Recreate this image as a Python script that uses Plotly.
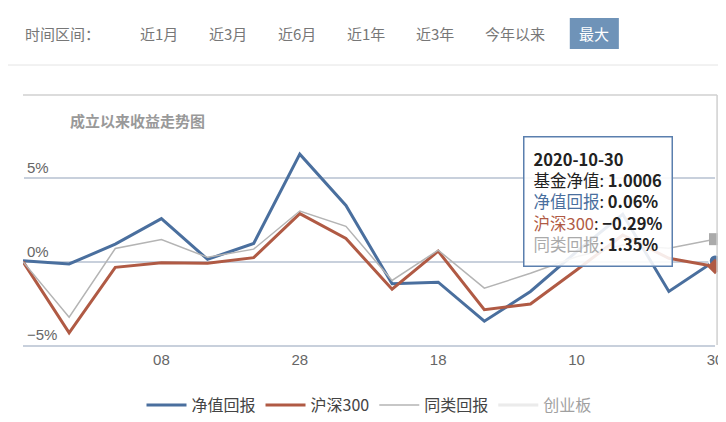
import plotly.graph_objects as go

x_labels = ["", "", "", "08", "", "", "28", "", "", "18", "", "", "10", "", "", "30"]
idx = list(range(len(x_labels)))
net_return = [0.06, -0.14, 1.05, 2.58, 0.14, 1.09, 6.45, 3.37, -1.33, -1.23, -3.57, -1.79, 0.6, 2.84, -1.79, 0.06]
hs300 = [0.0, -4.27, -0.34, -0.06, -0.10, 0.24, 2.88, 1.39, -1.65, 0.63, -2.88, -2.54, -0.5, 1.60, 0.20, -0.29]
peer = [0.0, -3.33, 0.79, 1.33, 0.26, 0.75, 3.04, 2.12, -1.13, 0.69, -1.59, -0.70, 0.3, 1.0, 0.8, 1.35]
gem = [None] * 16

BLUE, RED, GRAY, LIGHT = "#4a6f9e", "#b05a44", "#b4b4b4", "#d8d8d8"
FONT = "Noto Sans CJK SC"

fig = go.Figure()
fig.add_trace(go.Scatter(x=idx, y=net_return, name="净值回报", mode="lines", line=dict(color=BLUE, width=3)))
fig.add_trace(go.Scatter(x=idx, y=hs300, name="沪深300", mode="lines", line=dict(color=RED, width=3)))
fig.add_trace(go.Scatter(x=idx, y=peer, name="同类回报", mode="lines", line=dict(color=GRAY, width=1.5)))
fig.add_trace(go.Scatter(x=idx, y=gem, name="创业板", mode="lines", line=dict(color=LIGHT, width=3), visible="legendonly"))
# end markers
fig.add_trace(go.Scatter(x=[idx[-1]], y=[peer[-1]], mode="markers", showlegend=False, cliponaxis=False,
                         marker=dict(symbol="square", size=12, color="#aaaaaa")))
fig.add_trace(go.Scatter(x=[idx[-1]], y=[net_return[-1]], mode="markers", showlegend=False, cliponaxis=False,
                         marker=dict(symbol="circle", size=12, color=BLUE, line=dict(color="white", width=1.5))))
fig.add_trace(go.Scatter(x=[idx[-1]], y=[hs300[-1]], mode="markers", showlegend=False, cliponaxis=False,
                         marker=dict(symbol="diamond", size=12, color=RED)))

fig.update_layout(
    width=726, height=422, paper_bgcolor="white", plot_bgcolor="white",
    margin=dict(l=15, r=19, t=87, b=85, autoexpand=False),
    font=dict(family=FONT, color="#666"),
    xaxis=dict(range=[0, 15], tickmode="array", tickvals=idx, ticktext=x_labels, showgrid=False,
               showline=True, linecolor="#c8d0dc", linewidth=2, ticks="outside", ticklen=0,
               tickfont=dict(size=15, color="#666", family="Liberation Sans")),
    yaxis=dict(range=[-5, 10], tickvals=[-5, 0, 5], showticklabels=False, gridcolor="#c8d0dc", gridwidth=1.5,
               zeroline=False, showline=False),
    legend=dict(orientation="h", x=0.5, xanchor="center", y=-0.24, yanchor="middle",
                font=dict(size=16, color="#444"), itemwidth=40),
    showlegend=True,
)
for v, t in [(5, "5%"), (0, "0%"), (-5, "−5%")]:
    fig.add_annotation(x=0, xref="paper", y=v, yref="y", text=t, showarrow=False, xanchor="left",
                       yanchor="bottom", xshift=2, font=dict(size=15, color="#666", family="Liberation Sans"))
fig.add_shape(type="line", xref="paper", yref="paper", x0=0, x1=1.003, y0=1, y1=1, line=dict(color="#d0d0d0", width=1.5))
fig.add_shape(type="line", xref="paper", yref="paper", x0=1.003, x1=1.003, y0=0, y1=1, line=dict(color="#d0d0d0", width=1.5))

def hx(px):
    return (px - 15) / 691
def hy(py):
    return (337 - py) / 250

fig.add_annotation(xref="paper", yref="paper", x=hx(60), y=hy(112), text="<b>成立以来收益走势图</b>", showarrow=False,
                   xanchor="left", yanchor="middle", font=dict(size=15, color="#999"))
tip = ("<b>2020-10-30</b><br>基金净值: <b>1.0006</b><br>"
       f"<span style='color:{BLUE}'>净值回报</span>: <b>0.06%</b><br>"
       f"<span style='color:{RED}'>沪深300</span>: <b>−0.29%</b><br>"
       f"<span style='color:#aaa'>同类回报</span>: <b>1.35%</b>")
fig.add_annotation(xref="paper", yref="paper", x=hx(514), y=hy(128), xanchor="left", yanchor="top",
                   text=tip, showarrow=False, align="left", bgcolor="rgba(255,255,255,0.88)",
                   bordercolor="#5a7fae", borderwidth=1.5, borderpad=9,
                   font=dict(size=16.5, color="#222", family=FONT))
fig.add_annotation(xref="paper", yref="paper", x=hx(15), y=hy(25), text="时间区间：", showarrow=False,
                   xanchor="left", yanchor="middle", font=dict(size=15, color="#777"))
for label, px in [("近1月", 130), ("近3月", 199), ("近6月", 268), ("近1年", 337), ("近3年", 405), ("今年以来", 474)]:
    fig.add_annotation(xref="paper", yref="paper", x=hx(px), y=hy(25), text=label, showarrow=False,
                       xanchor="left", yanchor="middle", font=dict(size=15, color="#777"))
fig.add_shape(type="rect", xref="paper", yref="paper", x0=hx(561), x1=hx(610), y0=hy(41), y1=hy(10),
              fillcolor="#6f93b8", line=dict(width=0))
fig.add_annotation(xref="paper", yref="paper", x=hx(585.5), y=hy(25), text="最大", showarrow=False,
                   xanchor="center", yanchor="middle", font=dict(size=15, color="white"))
fig.add_shape(type="line", xref="paper", yref="paper", x0=hx(0), x1=hx(726), y0=hy(57), y1=hy(57),
              line=dict(color="#e4e4e4", width=1))

fig.write_html("out.html")
